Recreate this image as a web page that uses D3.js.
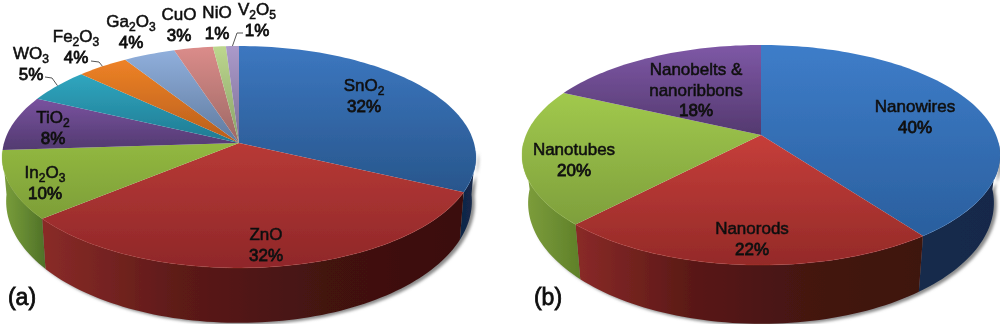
<!DOCTYPE html>
<html>
<head>
<meta charset="utf-8">
<script src="https://cdn.jsdelivr.net/npm/d3@7"></script>
<style>
  html, body { margin: 0; padding: 0; background: #fff; }
  svg { display: block; }
</style>
</head>
<body>
<div id="chart"></div>
<script>
const oxideNames = ['SnO2', 'ZnO', 'In2O3', 'TiO2', 'WO3', 'Fe2O3', 'Ga2O3', 'CuO', 'NiO', 'V2O5'];
const oxideShares = [32, 32, 10, 8, 5, 4, 4, 3, 1, 1];
const oxideTop = ['#3c77c0', '#b83a36', '#92b840', '#79529f', '#30a6bf', '#ee8226', '#90afdc', '#db8c8a', '#bdd78e', '#ab9aca'];
const oxideLow = ['#28568c', '#8f2729', '#7d9e38', '#523a70', '#1f7a92', '#b85e1c', '#5f7a9e', '#9c6864', '#88a268', '#7c6f96'];
const oxideWalls = [['#0f2645', '#12284a', '#13294b'], ['#8a2b28', '#5c1a18', '#431211', '#3a0f0f'], ['#7b9f3c', '#668a32', '#4f7028']];

const shapeNames = ['Nanowires', 'Nanorods', 'Nanotubes', 'Nanobelts &\nnanoribbons'];
const shapeShares = [40, 22, 20, 18];
const shapeTop = ['#3e7dc9', '#c63e3a', '#a1c94d', '#7e58a6'];
const shapeLow = ['#2a5f9e', '#942a28', '#7e9f3c', '#54396f'];
const shapeWalls = [['#13294b', '#13294b', '#12284a'], ['#8a2a28', '#5a1916', '#441311', '#3e1210'], ['#7f9f3c', '#6f9034', '#5f8028']];

const w = 1000;
const h = 324;
const svg = d3.select('#chart').append('svg').attr('width', w).attr('height', h);
const defs = svg.append('defs');
defs.append('filter').attr('id', 'soft').attr('x', '-5%').attr('y', '-5%').attr('width', '110%').attr('height', '110%')
  .append('feGaussianBlur').attr('stdDeviation', 0.4);
defs.append('filter').attr('id', 'shadow').attr('x', '-5%').attr('y', '-5%').attr('width', '110%').attr('height', '110%')
  .append('feGaussianBlur').attr('stdDeviation', 1.8);

const root = svg.append('g').attr('filter', 'url(#soft)');
const line = d3.line();
const rad = Math.PI / 180;
// the rim's outermost points sit a little past 3 and 9 o'clock
const wallFrom = 94 * rad;
const wallTo = 266 * rad;

let gradId = 0;
const gradient = (colors, horizontal) => {
  const id = 'g' + (gradId++);
  const g = defs.append('linearGradient').attr('id', id)
    .attr('x1', 0).attr('y1', 0)
    .attr('x2', horizontal ? 1 : 0).attr('y2', horizontal ? 0 : 1);
  colors.forEach((c, i) => {
    g.append('stop').attr('offset', i / (colors.length - 1)).attr('stop-color', c);
  });
  return `url(#${id})`;
};

// labels split into lines, digits inside a formula go down as subscripts
const writeLabel = (x, y, lines, size) => {
  lines.forEach((txt, i) => {
    const t = root.append('text')
      .attr('x', x).attr('y', y + i * 20.5 + 6)
      .attr('text-anchor', 'middle')
      .style('font-family', '"Liberation Sans", Arial, sans-serif')
      .style('font-size', size + 'px')
      .style('fill', '#111')
      .style('stroke', '#111')
      .style('stroke-width', i === lines.length - 1 ? 0.8 : 0.55);
    const bits = /^[A-Z]/.test(txt) && /\d/.test(txt) ? txt.split(/(\d)/).filter(b => b) : [txt];
    let down = false;
    bits.forEach(b => {
      const sub = /^\d$/.test(b) && bits.length > 1;
      const span = t.append('tspan').text(b);
      if (sub) { span.attr('dy', 4).style('font-size', (size - 5) + 'px'); down = true; }
      else if (down) { span.attr('dy', -4); down = false; }
    });
  });
};

const drawPie = (cfg) => {
  const { cx, cy, R, S, k, Rb, Sb, D, names, shares, top, low, walls, spots, leaders } = cfg;
  const arcs = d3.pie().sort(null).startAngle(0).endAngle(2 * Math.PI)(shares);

  // perspective view of the round top: angle runs clockwise from 12 o'clock
  const rimTop = a => {
    const u = Math.sin(a), v = -Math.cos(a), d = 1 - k * v;
    return [cx + R * u / d, cy + S * v / d];
  };
  const rimLow = a => {
    const u = Math.sin(a), v = -Math.cos(a), d = 1 - k * v;
    return [cx + Rb * u / d, cy + D + Sb * v / d];
  };
  const sweep = (a0, a1, fn) => {
    const n = Math.max(2, Math.ceil((a1 - a0) / (rad * 1.5)));
    return d3.range(n + 1).map(i => fn(a0 + (a1 - a0) * i / n));
  };

  // soft shadow below the whole thing
  const outline = sweep(wallFrom, wallTo, rimLow).concat(sweep(wallFrom, wallTo, rimTop).reverse());
  root.append('path')
    .attr('d', line(outline) + 'Z')
    .attr('transform', 'translate(3,2)')
    .attr('fill', '#8c8c8c')
    .attr('filter', 'url(#shadow)');

  // side walls, only the front half shows
  const front = arcs.filter(d => d.endAngle > wallFrom && d.startAngle < wallTo);
  root.selectAll(null).data(front).enter().append('path')
    .attr('d', d => {
      const a0 = Math.max(d.startAngle, wallFrom), a1 = Math.min(d.endAngle, wallTo);
      return line(sweep(a0, a1, rimTop).concat(sweep(a0, a1, rimLow).reverse())) + 'Z';
    })
    .attr('fill', (d, i) => gradient(walls[i], true));

  root.selectAll(null).data(arcs).enter().append('path')
    .attr('d', d => line([[cx, cy]].concat(sweep(d.startAngle, d.endAngle, rimTop))) + 'Z')
    .attr('fill', (d, i) => gradient([top[i], low[i]], false));

  // thin bright edge on the front rim
  root.selectAll(null).data(front).enter().append('path')
    .attr('d', d => line(sweep(Math.max(d.startAngle, wallFrom), Math.min(d.endAngle, wallTo), rimTop)))
    .attr('fill', 'none')
    .attr('stroke', (d, i) => top[i])
    .attr('stroke-opacity', 0.3)
    .attr('stroke-width', 1);

  leaders.forEach(l => {
    const d = arcs[l.i];
    const p = rimTop((d.startAngle + d.endAngle) / 2);
    root.append('path')
      .attr('d', line([p, l.bend, l.end]))
      .attr('fill', 'none')
      .attr('stroke', '#555')
      .attr('stroke-width', 1);
  });

  names.forEach((n, i) => {
    const [x, y] = spots[i];
    writeLabel(x, y, n.split('\n').concat(shares[i] + '%'), 17);
  });
};

// (a) metal oxides
drawPie({
  cx: 239, cy: 143, R: 235, S: 109.2, k: 0.126, Rb: 231, Sb: 119.6, D: 43,
  names: oxideNames, shares: oxideShares, top: oxideTop, low: oxideLow, walls: oxideWalls,
  spots: [[364, 85], [266, 234], [45, 172], [53, 117], [31, 53], [76, 36], [131, 21], [179, 14], [217, 12], [257, 9]],
  leaders: [
    { i: 4, bend: [52, 78], end: [45, 77] },
    { i: 5, bend: [99, 62], end: [91, 61] },
    { i: 9, bend: [237, 33], end: [243, 33] }
  ]
});

// (b) nanostructure shapes
drawPie({
  cx: 761, cy: 135, R: 235, S: 106.4, k: 0.182, Rb: 229, Sb: 116.8, D: 46,
  names: shapeNames, shares: shapeShares, top: shapeTop, low: shapeLow, walls: shapeWalls,
  spots: [[915, 106], [752, 228], [574, 149], [696, 69]],
  leaders: []
});

[['(a)', 22, 297], ['(b)', 548, 297]].forEach(([txt, x, y]) => {
  root.append('text')
    .attr('x', x).attr('y', y + 8)
    .attr('text-anchor', 'middle')
    .style('font-family', '"Liberation Sans", Arial, sans-serif')
    .style('font-size', '23px')
    .style('fill', '#111')
    .style('stroke', '#111')
    .style('stroke-width', 0.8)
    .text(txt);
});
</script>
</body>
</html>
